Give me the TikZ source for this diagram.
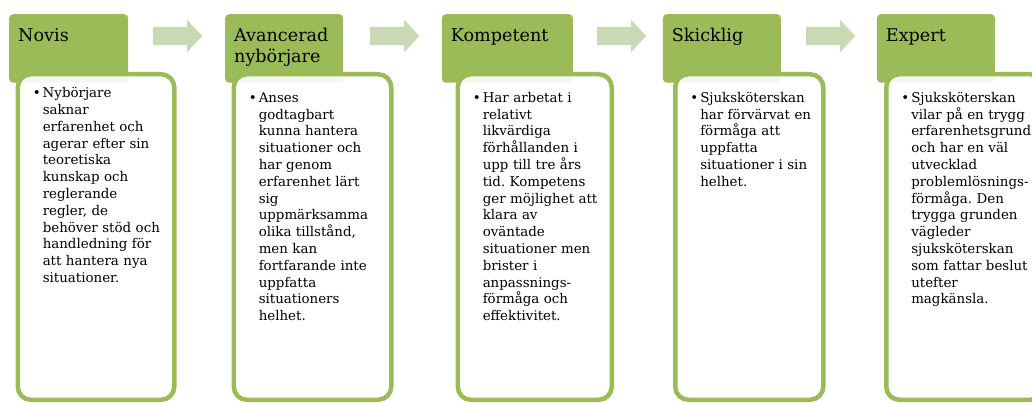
\documentclass[tikz,border=0pt]{standalone}
\usepackage{fontspec}
\setmainfont{DejaVu Serif}
\frenchspacing
\usetikzlibrary{shapes.arrows}

\begin{document}
\begin{tikzpicture}[x=1pt,y=-1pt,
  headbox/.style={anchor=north west,fill=stagegreen,rounded corners=4pt,
    inner xsep=9pt,inner ysep=0pt,text width=#1,text height=27pt,
    text depth=41.5pt,align=left,font=\fontsize{17.6}{21.7}\selectfont},
  bodybox/.style={anchor=north west,draw=stagegreen,line width=4.5pt,
    fill=white,fill opacity=0.9,text opacity=1,rounded corners=13pt,
    inner sep=0pt,text width=#1,text height=28pt,text depth=297.5pt,
    align=left,font=\fontsize{13.4}{16.8}\selectfont},
  stagearrow/.style={single arrow,fill=arrowgreen,anchor=tail,inner xsep=0pt,
    inner ysep=9pt,minimum height=49pt,minimum width=32pt,
    single arrow head extend=7pt,single arrow tip angle=94}]

\definecolor{stagegreen}{RGB}{155,187,89}
\definecolor{arrowgreen}{RGB}{201,217,180}
\def\bul#1{\leftskip=25pt\leavevmode\llap{\makebox[10pt][l]{\textbullet}}#1\par}

\clip (0,0) rectangle (1032,403);

\foreach \x [count=\i] in {153,370,597,806}
  \node[stagearrow] (a\i) at (\x,36) {};

\node[headbox=101pt] (h1) at (9,14) {Novis};
\node[headbox=100pt] (h2) at (225,14) {Avancerad\\ nybörjare};
\node[headbox=113pt] (h3) at (441.7,14) {Kompetent};
\node[headbox=100pt] (h4) at (662.7,14) {Skicklig};
\node[headbox=100pt] (h5) at (876.7,14) {Expert};

\node[bodybox=156.5pt,text height=23.5pt,text depth=302pt] (b1) at (15.5,72)
  {\bul{Nybörjare\\ saknar\\ erfarenhet och\\ agerar efter sin\\ teoretiska\\
   kunskap och\\ reglerande\\ regler, de\\ behöver stöd och\\ handledning för\\
   att hantera nya\\ situationer.}};
\node[bodybox=157.5pt] (b2) at (231.5,72)
  {\bul{Anses\\ godtagbart\\ kunna hantera\\ situationer och\\ har genom\\
   erfarenhet lärt\\ sig\\ uppmärksamma\\ olika tillstånd,\\ men kan\\
   fortfarande inte\\ uppfatta\\ situationers\\ helhet.}};
\node[bodybox=154pt] (b3) at (455.5,72)
  {\bul{Har arbetat i\\ relativt\\ likvärdiga\\ förhållanden i\\ upp till tre års\\
   tid. Kompetens\\ ger möjlighet att\\ klara av\\ oväntade\\ situationer men\\
   brister i\\ anpassnings-\\ förmåga och\\ effektivitet.}};
\node[bodybox=148pt] (b4) at (673,72)
  {\bul{Sjuksköterskan\\ har förvärvat en\\ förmåga att\\ uppfatta\\
   situationer i sin\\ helhet.}};
\node[bodybox=157pt] (b5) at (884,72)
  {\bul{Sjuksköterskan\\ vilar på en trygg\\ erfarenhetsgrund\\ och har en väl\\
   utvecklad\\ problemlösnings-\\ förmåga. Den\\ trygga grunden\\ vägleder\\
   sjuksköterskan\\ som fattar beslut\\ utefter\\ magkänsla.}};

\end{tikzpicture}
\end{document}
